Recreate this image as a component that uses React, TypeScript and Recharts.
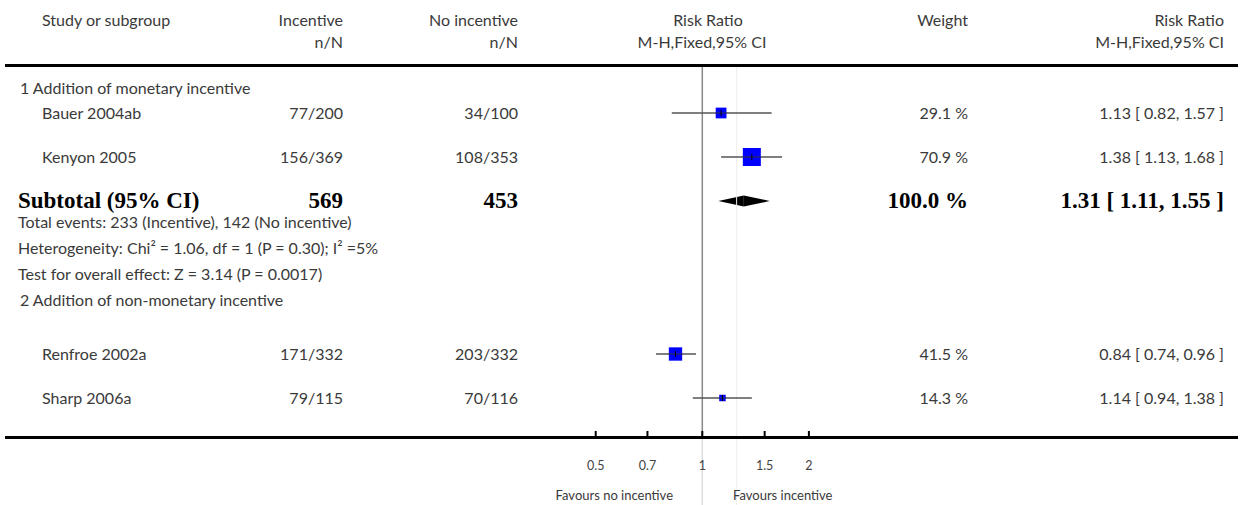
import React from 'react';
import {
  ComposedChart,
  Scatter,
  XAxis,
  YAxis,
  ZAxis,
  ErrorBar,
  ReferenceLine,
  ReferenceArea,
} from 'recharts';

// ---------------- data ----------------
const studyNames = ['Bauer 2004ab', 'Kenyon 2005', 'Renfroe 2002a', 'Sharp 2006a'];
const incentiveEvents = ['77/200', '156/369', '171/332', '79/115'];
const controlEvents = ['34/100', '108/353', '203/332', '70/116'];
const riskRatios = [1.13, 1.38, 0.84, 1.14];
const ciLower = [0.82, 1.13, 0.74, 0.94];
const ciUpper = [1.57, 1.68, 0.96, 1.38];
const weights = [29.1, 70.9, 41.5, 14.3];

const subgroupTitles = ['1 Addition of monetary incentive', '2 Addition of non-monetary incentive'];
const subtotalLabel = 'Subtotal (95% CI)';
const subtotalTotals = [569, 453];
const subtotalWeight = 100.0;
const subtotalEstimate = [1.31, 1.11, 1.55]; // RR, lower, upper
const summaryLines = [
  'Total events: 233 (Incentive), 142 (No incentive)',
  'Heterogeneity: Chi² = 1.06, df = 1 (P = 0.30); I² =5%',
  'Test for overall effect: Z = 3.14 (P = 0.0017)',
];
const overallReference = [1.25];

const headerRow1 = ['Study or subgroup', 'Incentive', 'No incentive', 'Risk Ratio', 'Weight', 'Risk Ratio'];
const headerRow2 = ['n/N', 'n/N', 'M-H,Fixed,95% CI', 'M-H,Fixed,95% CI'];

const tickValues = [0.5, 0.7, 1, 1.5, 2];
const tickLabels = ['0.5', '0.7', '1', '1.5', '2'];
const favoursLabels = ['Favours no incentive', 'Favours incentive'];

// ---------------- layout ----------------
const W = 1242;
const H = 505;
const AXIS_Y = 437;
const HEADER_RULE_Y = 65;
// row centres: section1, study0, study1, subtotal, summary0..2, section2, study2, study3
const ROW_Y = [88, 113, 157, 201, 222, 248, 274, 300, 354, 398];
const STUDY_ROW = [1, 2, 8, 9];
const DIAMOND_HALF = 5.5;

const PLOT_LEFT = 561.4;
const PLOT_RIGHT = 843.2;
const X_DOMAIN = [0.4, 2.5];

const COL = {
  label: 42,
  section: 20,
  incRight: 343,
  ctlRight: 518,
  rrCenter: 708,
  wtRight: 968,
  rrRight: 1224,
};

const FONT = 'Lato, "Open Sans", "DejaVu Sans", sans-serif';
const SERIF = '"Liberation Serif", "DejaVu Serif", serif';
const TEXT_COLOR = '#3a3a3a';

const fmt = (v: number) => v.toFixed(2);
const rrText = (r: number, l: number, u: number) => `${fmt(r)} [ ${fmt(l)}, ${fmt(u)} ]`;

const studyData = studyNames.map((name, i) => ({
  name,
  rr: riskRatios[i],
  y: ROW_Y[STUDY_ROW[i]],
  w: weights[i],
  err: [riskRatios[i] - ciLower[i], ciUpper[i] - riskRatios[i]],
}));

const StudyMarker = (props: any) => {
  const { cx, cy, size, width } = props;
  if (cx == null || cy == null) return null;
  const s = size ? Math.sqrt(size) : width ? (width * Math.sqrt(Math.PI)) / 2 : 10;
  return (
    <g>
      <rect x={cx - s / 2} y={cy - s / 2} width={s} height={s} fill="#0000ff" />
      <line x1={cx - s / 2} x2={cx + s / 2} y1={cy} y2={cy} stroke="#333" strokeWidth={1} />
      <line x1={cx} x2={cx} y1={cy - 3} y2={cy + 3} stroke="#000" strokeWidth={1} />
    </g>
  );
};

const AxisTick = (props: any) => {
  const { x, y, payload } = props;
  const idx = tickValues.indexOf(payload.value);
  return (
    <g>
      <line x1={x} x2={x} y1={y - 6} y2={y} stroke="#000" strokeWidth={2} />
      <text x={x} y={y + 33} textAnchor="middle" fontSize={12.5} fill="#444" fontFamily={FONT}>
        {idx >= 0 ? tickLabels[idx] : payload.value}
      </text>
    </g>
  );
};

const LeftHalf = (p: any) => (
  <polygon
    points={`${p.x},${p.y + p.height / 2} ${p.x + p.width},${p.y} ${p.x + p.width},${p.y + p.height}`}
    fill="#000"
  />
);
const RightHalf = (p: any) => (
  <polygon
    points={`${p.x},${p.y} ${p.x + p.width},${p.y + p.height / 2} ${p.x},${p.y + p.height}`}
    fill="#000"
  />
);

type CellProps = {
  y: number;
  left?: number;
  right?: number;
  center?: number;
  bold?: boolean;
  size?: number;
  children: React.ReactNode;
};

const Cell = ({ y, left, right, center, bold, size, children }: CellProps) => {
  const style: React.CSSProperties = {
    position: 'absolute',
    top: y - 12,
    height: 24,
    lineHeight: '24px',
    whiteSpace: 'nowrap',
    fontFamily: bold ? SERIF : FONT,
    fontWeight: bold ? 700 : 400,
    fontSize: size ?? (bold ? 23 : 16),
    color: bold ? '#000' : TEXT_COLOR,
  };
  if (left != null) {
    style.left = left;
  } else if (right != null) {
    style.right = W - right;
    style.textAlign = 'right';
  } else if (center != null) {
    style.left = center - 200;
    style.width = 400;
    style.textAlign = 'center';
  }
  return <div style={style}>{children}</div>;
};

export default function App() {
  const secRows = [0, 7];
  const sumRows = [4, 5, 6];
  return (
    <div style={{ position: 'absolute', left: 0, top: 0, width: W, height: H, background: '#fff', overflow: 'hidden' }}>
      <div style={{ position: 'absolute', left: 0, top: 0 }}>
        <ComposedChart
          width={W}
          height={H}
          margin={{ top: 0, bottom: 0, left: PLOT_LEFT, right: W - PLOT_RIGHT }}
        >
          <XAxis
            dataKey="rr"
            type="number"
            scale="log"
            domain={X_DOMAIN}
            allowDataOverflow
            ticks={tickValues}
            interval={0}
            height={H - AXIS_Y}
            axisLine={false}
            tickLine={false}
            tickSize={0}
            tickMargin={0}
            tick={<AxisTick />}
          />
          <YAxis dataKey="y" type="number" domain={[0, AXIS_Y]} reversed hide width={0} />
          <ZAxis dataKey="w" type="number" domain={[Math.min(...weights), Math.max(...weights)]} range={[42, 324]} />
          <ReferenceLine
            segment={[{ x: overallReference[0], y: HEADER_RULE_Y }, { x: overallReference[0], y: H }]}
            stroke="#eeeeee"
            strokeWidth={1}
            ifOverflow="visible"
          />
          <ReferenceLine
            segment={[{ x: 1, y: AXIS_Y }, { x: 1, y: H }]}
            stroke="#dddddd"
            strokeWidth={1.5}
            ifOverflow="visible"
          />
          <ReferenceLine
            segment={[{ x: 1, y: HEADER_RULE_Y }, { x: 1, y: AXIS_Y }]}
            stroke="#888888"
            strokeWidth={1.5}
            ifOverflow="visible"
          />
          <ReferenceArea
            x1={subtotalEstimate[1]}
            x2={subtotalEstimate[0]}
            y1={ROW_Y[3] - DIAMOND_HALF}
            y2={ROW_Y[3] + DIAMOND_HALF}
            shape={<LeftHalf />}
            ifOverflow="visible"
          />
          <ReferenceArea
            x1={subtotalEstimate[0]}
            x2={subtotalEstimate[2]}
            y1={ROW_Y[3] - DIAMOND_HALF}
            y2={ROW_Y[3] + DIAMOND_HALF}
            shape={<RightHalf />}
            ifOverflow="visible"
          />
          <Scatter data={studyData} dataKey="y" shape={<StudyMarker />} isAnimationActive={false}>
            <ErrorBar dataKey="err" direction="x" width={0} stroke="#555" strokeWidth={1.5} isAnimationActive={false} />
          </Scatter>
        </ComposedChart>
      </div>

      {/* rules */}
      <div style={{ position: 'absolute', left: 5, width: 1233, top: HEADER_RULE_Y - 1.5, height: 3, background: '#000' }} />
      <div style={{ position: 'absolute', left: 5, width: 1233, top: AXIS_Y - 1.5, height: 3, background: '#000' }} />

      {/* header */}
      <Cell y={20} left={COL.label}>{headerRow1[0]}</Cell>
      <Cell y={20} right={COL.incRight}>{headerRow1[1]}</Cell>
      <Cell y={20} right={COL.ctlRight}>{headerRow1[2]}</Cell>
      <Cell y={20} center={COL.rrCenter}>{headerRow1[3]}</Cell>
      <Cell y={20} right={COL.wtRight}>{headerRow1[4]}</Cell>
      <Cell y={20} right={COL.rrRight}>{headerRow1[5]}</Cell>
      <Cell y={42} right={COL.incRight}>{headerRow2[0]}</Cell>
      <Cell y={42} right={COL.ctlRight}>{headerRow2[1]}</Cell>
      <Cell y={42} center={COL.rrCenter - 6}>{headerRow2[2]}</Cell>
      <Cell y={42} right={COL.rrRight}>{headerRow2[3]}</Cell>

      {/* subgroup titles */}
      {subgroupTitles.map((t, i) => (
        <Cell key={'sg' + i} y={ROW_Y[secRows[i]]} left={COL.section}>{t}</Cell>
      ))}

      {/* studies */}
      {studyNames.map((n, i) => {
        const y = ROW_Y[STUDY_ROW[i]];
        return (
          <React.Fragment key={'st' + i}>
            <Cell y={y} left={COL.label}>{n}</Cell>
            <Cell y={y} right={COL.incRight}>{incentiveEvents[i]}</Cell>
            <Cell y={y} right={COL.ctlRight}>{controlEvents[i]}</Cell>
            <Cell y={y} right={COL.wtRight}>{`${weights[i].toFixed(1)} %`}</Cell>
            <Cell y={y} right={COL.rrRight}>{rrText(riskRatios[i], ciLower[i], ciUpper[i])}</Cell>
          </React.Fragment>
        );
      })}

      {/* subtotal */}
      <Cell y={ROW_Y[3]} left={18} bold>{subtotalLabel}</Cell>
      <Cell y={ROW_Y[3]} right={COL.incRight} bold>{subtotalTotals[0]}</Cell>
      <Cell y={ROW_Y[3]} right={COL.ctlRight} bold>{subtotalTotals[1]}</Cell>
      <Cell y={ROW_Y[3]} right={COL.wtRight} bold>{`${subtotalWeight.toFixed(1)} %`}</Cell>
      <Cell y={ROW_Y[3]} right={COL.rrRight} bold>
        {rrText(subtotalEstimate[0], subtotalEstimate[1], subtotalEstimate[2])}
      </Cell>

      {summaryLines.map((t, i) => (
        <Cell key={'sum' + i} y={ROW_Y[sumRows[i]]} left={18}>{t}</Cell>
      ))}

      {/* favours */}
      <Cell y={495} right={673} size={13}>{favoursLabels[0]}</Cell>
      <Cell y={495} left={733} size={13}>{favoursLabels[1]}</Cell>
    </div>
  );
}
